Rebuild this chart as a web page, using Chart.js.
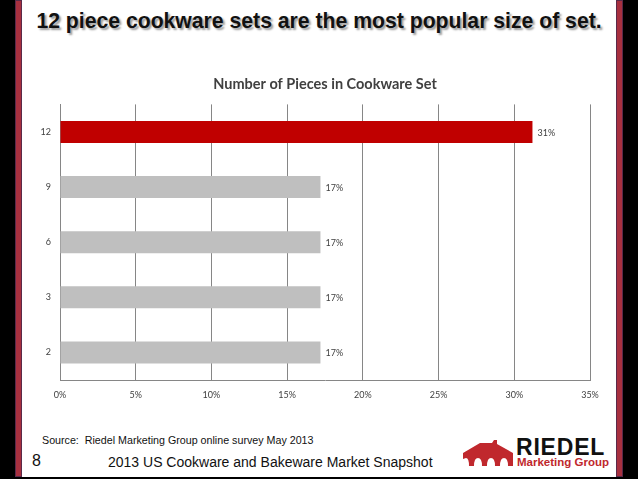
<!DOCTYPE html>
<html>
<head>
<meta charset="utf-8">
<script src="https://cdn.jsdelivr.net/npm/chart.js@4/dist/chart.umd.min.js"></script>
<style>
  html, body { margin: 0; padding: 0; }
  body { width: 638px; height: 479px; background: #000; position: relative; overflow: hidden; font-family: 'Liberation Sans', Arial, sans-serif; }
  .slide { position: absolute; left: 22px; top: 0; width: 594px; height: 477px; background: #fff; }
  .stripe { position: absolute; top: 0; width: 7px; height: 477px; background: #a8303f; box-shadow: inset 0 0 0 1px #5a2a4a; }
  .headline { position: absolute; left: 0; top: 9px; width: 638px; text-align: center; font-weight: bold; font-size: 21.2px; color: #111; text-shadow: 2px 2px 2px #9a9a9a; }
  .chart-box { position: absolute; left: 22px; top: 60px; width: 594px; height: 350px; }
  .source { position: absolute; left: 42px; top: 434px; font-size: 10.7px; color: #111; }
  .page { position: absolute; left: 32px; top: 452px; font-size: 16px; color: #111; }
  .footer { position: absolute; left: 108px; top: 454px; font-size: 14px; color: #111; }
  .logo { position: absolute; left: 462px; top: 434px; width: 150px; height: 40px; }
  .logo .name { position: absolute; left: 54px; top: 0px; font-weight: bold; font-size: 23px; letter-spacing: 0.8px; color: #111; }
  .logo .sub { position: absolute; left: 55px; top: 22px; font-weight: bold; font-size: 11.5px; color: #c0282d; }
  .logo svg { position: absolute; left: 0; top: 6px; }
</style>
</head>
<body>
<div class="slide"></div>
<div class="stripe" style="left:15px"></div>
<div class="stripe" style="left:616px"></div>
<div class="headline">12 piece cookware sets are the most popular size of set.</div>
<div class="chart-box"><canvas id="chart"></canvas></div>
<div class="source">Source:&nbsp; Riedel Marketing Group online survey May 2013</div>
<div class="page">8</div>
<div class="footer">2013 US Cookware and Bakeware Market Snapshot</div>
<div class="logo">
  <svg width="52" height="26" viewBox="0 0 52 26">
    <path d="M1 13 L18 3 L30 3 L32 0 L35 0 L35 4 L51 13 L51 26 L46 26 Q46 18 42 18 Q38 18 38 26 L33 26 Q33 18 29 18 Q25 18 25 26 L20 26 Q20 18 16 18 Q12 18 12 26 L7 26 Q7 18 4 18 L1 19 Z" fill="#c0282d"/>
  </svg>
  <div class="name">RIEDEL</div>
  <div class="sub">Marketing Group</div>
</div>
<script>
// ===== data =====
const categories = ['12', '9', '6', '3', '2'];
const shares = [31.2, 17.2, 17.2, 17.2, 17.2];
const barColors = ['#c00000', '#bfbfbf', '#bfbfbf', '#bfbfbf', '#bfbfbf'];
const xTicks = [0, 5, 10, 15, 20, 25, 30, 35];

const gridGrey = '#868686';
const textGrey = '#404040';

Chart.defaults.font.family = "'Lato', 'Liberation Sans', sans-serif";
Chart.defaults.color = textGrey;

// value labels at the end of each bar
const barLabels = {
    id: 'barLabels',
    afterDatasetsDraw(chart) {
        const { ctx } = chart;
        const meta = chart.getDatasetMeta(0);
        ctx.save();
        ctx.font = "9px 'Lato', sans-serif";
        ctx.fillStyle = textGrey;
        ctx.textBaseline = 'middle';
        meta.data.forEach((bar, i) => {
            ctx.fillText(Math.round(shares[i]) + '%', bar.x + 5, bar.y + 1);
        });
        ctx.restore();
    }
};

new Chart(document.getElementById('chart'), {
    type: 'bar',
    data: {
        labels: categories,
        datasets: [{
            data: shares,
            backgroundColor: barColors,
            borderWidth: 0,
            categoryPercentage: 1,
            barPercentage: 0.4,
        }]
    },
    options: {
        indexAxis: 'y',
        responsive: true,
        maintainAspectRatio: false,
        animation: false,
        layout: { padding: { top: 0, left: 0, right: 26, bottom: 0 } },
        plugins: {
            legend: { display: false },
            tooltip: { enabled: false },
            title: {
                display: true,
                fullSize: false, // centre over the plot area
                text: 'Number of Pieces in Cookware Set',
                color: textGrey,
                font: { size: 14.5, weight: 'bold' },
                padding: { top: 16, bottom: 11 }
            }
        },
        scales: {
            x: {
                min: 0,
                max: 35,
                afterBuildTicks: (scale) => { scale.ticks = xTicks.map(v => ({ value: v })); },
                afterFit: (scale) => { scale.height = 30; },
                grid: { color: gridGrey, drawTicks: false },
                border: { color: gridGrey },
                ticks: {
                    padding: 10,
                    font: { size: 9 },
                    callback: (v) => v + '%'
                }
            },
            y: {
                afterFit: (scale) => { scale.width = 38; },
                grid: { display: false, drawTicks: false },
                border: { display: true, color: gridGrey },
                ticks: { padding: 9, font: { size: 9 } }
            }
        }
    },
    plugins: [barLabels]
});
</script>
</body>
</html>
